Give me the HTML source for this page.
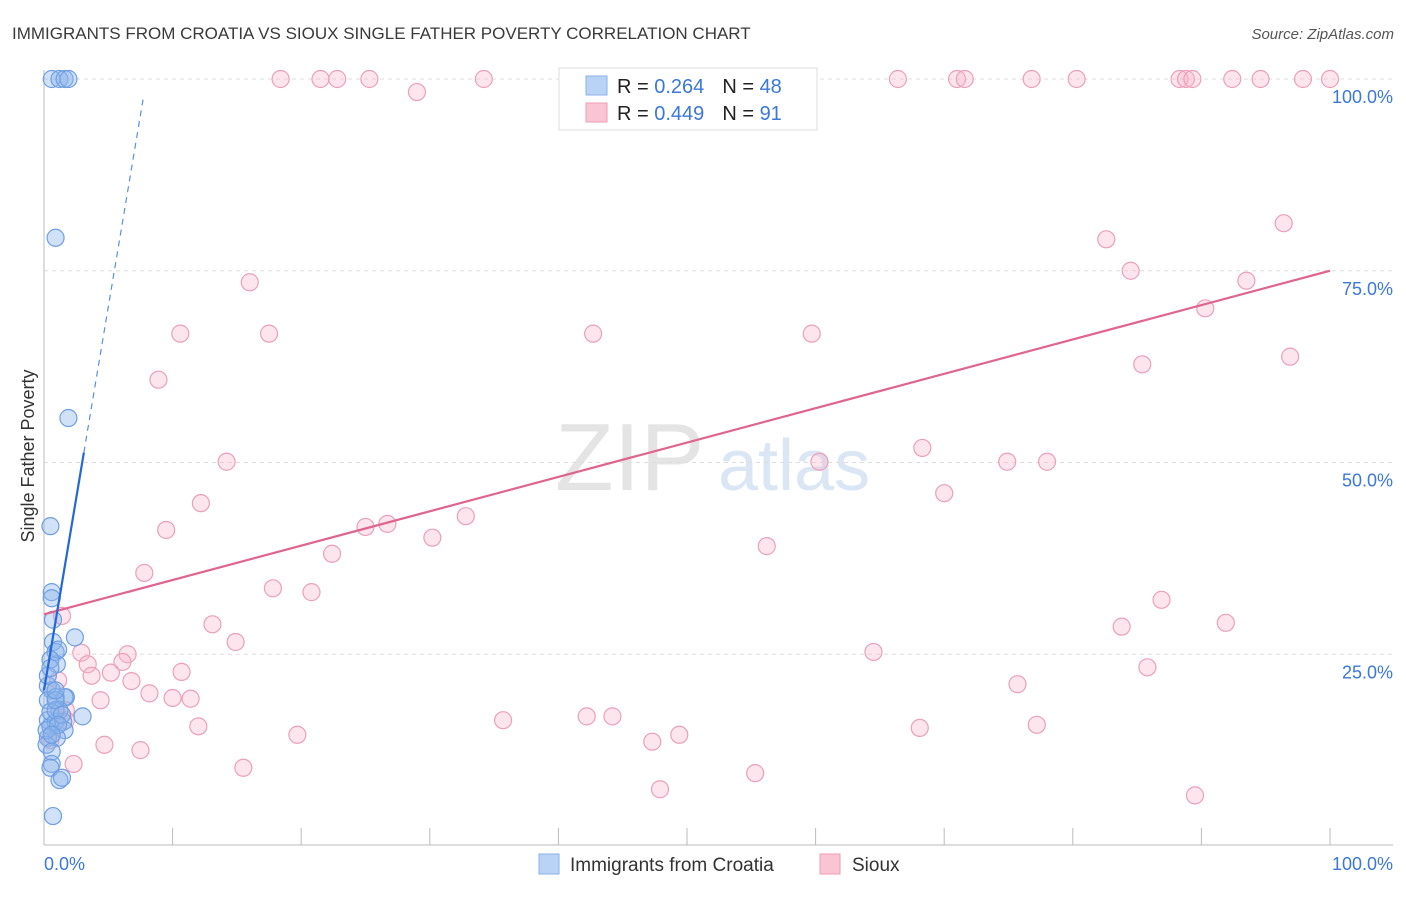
<!DOCTYPE html>
<html><head><meta charset="utf-8"><style>
body{margin:0;background:#fff;font-family:"Liberation Sans",sans-serif;}
svg text{font-family:"Liberation Sans",sans-serif;}
</style></head><body>
<svg id="chart" width="1406" height="892">
<text x="12" y="39" font-size="17" fill="#3a3a3a">IMMIGRANTS FROM CROATIA VS SIOUX SINGLE FATHER POVERTY CORRELATION CHART</text>
<text x="1394" y="39" font-size="15" fill="#555" text-anchor="end" font-style="italic">Source: ZipAtlas.com</text>
<text x="555" y="490" font-size="96" fill="#e4e4e4" font-family="Liberation Serif">ZIP</text>
<text x="718" y="490" font-size="72" fill="#dbe6f5">atlas</text>
<text transform="translate(34,456) rotate(-90)" font-size="18" fill="#333" text-anchor="middle">Single Father Poverty</text>
<g id="grid"></g><g id="axes"></g><g id="pink"></g><g id="blue"></g><g id="lines"></g>
<g>
<rect x="559" y="68" width="258" height="62" fill="#fff" stroke="#ddd"/>
<rect x="586" y="76" width="21" height="19" fill="#b9d3f6" stroke="#8ab2ea"/>
<rect x="586" y="103" width="21" height="19" fill="#f9c4d4" stroke="#ef9bb6"/>
<text x="617" y="93" font-size="20" fill="#222">R = <tspan fill="#3b78d8">0.264</tspan><tspan dx="18">N = </tspan><tspan fill="#3b78d8">48</tspan></text>
<text x="617" y="120" font-size="20" fill="#222">R = <tspan fill="#3b78d8">0.449</tspan><tspan dx="18">N = </tspan><tspan fill="#3b78d8"> 91</tspan></text>
</g>
<g>
<rect x="539" y="854" width="20" height="20" fill="#b9d3f6" stroke="#8ab2ea"/>
<text x="570" y="871" font-size="19" fill="#333">Immigrants from Croatia</text>
<rect x="820" y="854" width="20" height="20" fill="#f9c4d4" stroke="#ef9bb6"/>
<text x="852" y="871" font-size="19" fill="#333">Sioux</text>
</g>
</svg>
<script>
const blueX=[0.6,1.2,1.6,1.9,0.9,1.9,0.5,0.6,0.6,0.7,0.7,2.4,0.9,1.0,1.1,0.5,0.3,0.6,1.7,1.6,0.9,3.0,0.3,0.5,0.9,1.5,1.6,1.0,0.3,0.2,0.6,0.6,0.5,1.2,1.4,0.7,0.3,1.2,0.5,0.9,0.2,0.9,0.3,0.5,1.4,1.1,0.6,0.9];
const blueY=[100,100,100,100,79.3,55.8,41.7,33.1,32.3,29.5,26.6,27.2,25.3,23.7,25.6,24.3,20.9,20.3,19.4,19.4,19.4,16.9,16.4,15.6,16.2,16.2,15.1,14.1,14.1,13.2,12.3,10.7,10.2,8.6,8.9,3.9,19.0,17.7,17.5,17.7,15.1,19.0,22.2,23.2,17.1,15.8,14.5,20.3];
const pinkX=[18.4,21.5,22.8,25.3,29.0,34.2,52.0,66.4,71.0,71.6,76.8,80.3,88.3,88.8,89.3,92.4,94.6,97.9,100,96.4,82.6,84.5,16.0,10.6,17.5,42.7,59.7,90.3,93.5,85.4,96.9,8.9,14.2,68.3,74.9,78.0,60.3,12.2,70.0,9.5,25.0,26.7,32.8,30.2,22.4,56.2,7.8,17.8,20.8,1.4,86.9,83.8,91.9,13.1,14.9,64.5,2.9,6.5,3.4,6.1,3.7,5.2,10.7,6.8,8.2,10.0,11.4,85.8,75.7,4.4,1.7,12.0,35.7,42.2,44.2,68.1,77.2,19.7,47.3,49.4,4.7,7.5,2.3,15.5,55.3,47.9,89.5,1.1,1.7,0.5,0.9];
const pinkY=[100,100,100,100,98.3,100,100,100,100,100,100,100,100,100,100,100,100,100,100,81.2,79.1,75.0,73.5,66.8,66.8,66.8,66.8,70.1,73.7,62.8,63.8,60.8,50.1,51.9,50.1,50.1,50.1,44.7,46.0,41.2,41.6,42.0,43.0,40.2,38.1,39.1,35.6,33.6,33.1,30.0,32.1,28.6,29.1,28.9,26.6,25.3,25.2,25.0,23.7,24.0,22.2,22.6,22.7,21.5,19.9,19.3,19.2,23.3,21.1,19.0,17.7,15.6,16.4,16.9,16.9,15.4,15.8,14.5,13.6,14.5,13.2,12.5,10.7,10.2,9.5,7.4,6.6,21.6,16.4,13.8,17.7];
const yTicks=[25,50,75,100];
const yTickLabels=["25.0%","50.0%","75.0%","100.0%"];
const xTicks=[0,10,20,30,40,50,60,70,80,90,100];
const pinkFit=[30.2,75.0];
const blueFit=[20.3,10.0];
const NS="http://www.w3.org/2000/svg";
const sx=v=>44+v*12.86, sy=v=>846-v*7.67;
function mk(t,a,p){const e=document.createElementNS(NS,t);for(const k in a)e.setAttribute(k,a[k]);document.getElementById(p).appendChild(e);return e;}
yTicks.forEach((t,i)=>{
 const l=mk('line',{x1:44,x2:1393,y1:sy(t),y2:sy(t),stroke:'#ddd','stroke-dasharray':'4,4'},'grid');
 
 
 const tx=mk('text',{x:1393,y:sy(t)+24,'font-size':18,fill:'#3b78d8','text-anchor':'end'},'axes');
 tx.textContent=yTickLabels[i];
 
 
});
const ax=mk('line',{x1:44,x2:1393,y1:845,y2:845,stroke:'#bbb'},'axes');


const ay=mk('line',{x1:44,x2:44,y1:70,y2:845,stroke:'#bbb'},'axes');


xTicks.forEach(t=>{if(t===0)return;
 const l=mk('line',{x1:sx(t),x2:sx(t),y1:828,y2:845,stroke:'#bbb'},'axes');
 
 });
const x0=mk('text',{x:44,y:870,'font-size':18,fill:'#3b78d8'},'axes');x0.textContent='0.0%';


const x1=mk('text',{x:1393,y:870,'font-size':18,fill:'#3b78d8','text-anchor':'end'},'axes');x1.textContent='100.0%';


pinkX.forEach((x,i)=>{const c=mk('circle',{cx:sx(x),cy:sy(pinkY[i]),r:8.5,fill:'rgba(246,180,202,0.35)',stroke:'#eba0b8','stroke-width':1.2},'pink');
 
 });
blueX.forEach((x,i)=>{const c=mk('circle',{cx:sx(x),cy:sy(blueY[i]),r:8.5,fill:'rgba(140,180,236,0.4)',stroke:'#6f9fe2','stroke-width':1.2},'blue');
 
 });
const pl=mk('line',{x1:sx(0),y1:sy(pinkFit[0]),x2:sx(100),y2:sy(pinkFit[1]),stroke:'#e0658e','stroke-width':2.2},'lines');


const bl=mk('line',{x1:sx(0),y1:sy(blueFit[0]),x2:sx(3.1),y2:sy(blueFit[0]+blueFit[1]*3.1),stroke:'#2468d6','stroke-width':2.2},'lines');


const bd=mk('line',{x1:sx(3.1),y1:sy(blueFit[0]+blueFit[1]*3.1),x2:sx(7.7),y2:sy(blueFit[0]+blueFit[1]*7.7),stroke:'#5a8fe0','stroke-width':1.2,'stroke-dasharray':'6,5'},'lines');


</script>
</body></html>
